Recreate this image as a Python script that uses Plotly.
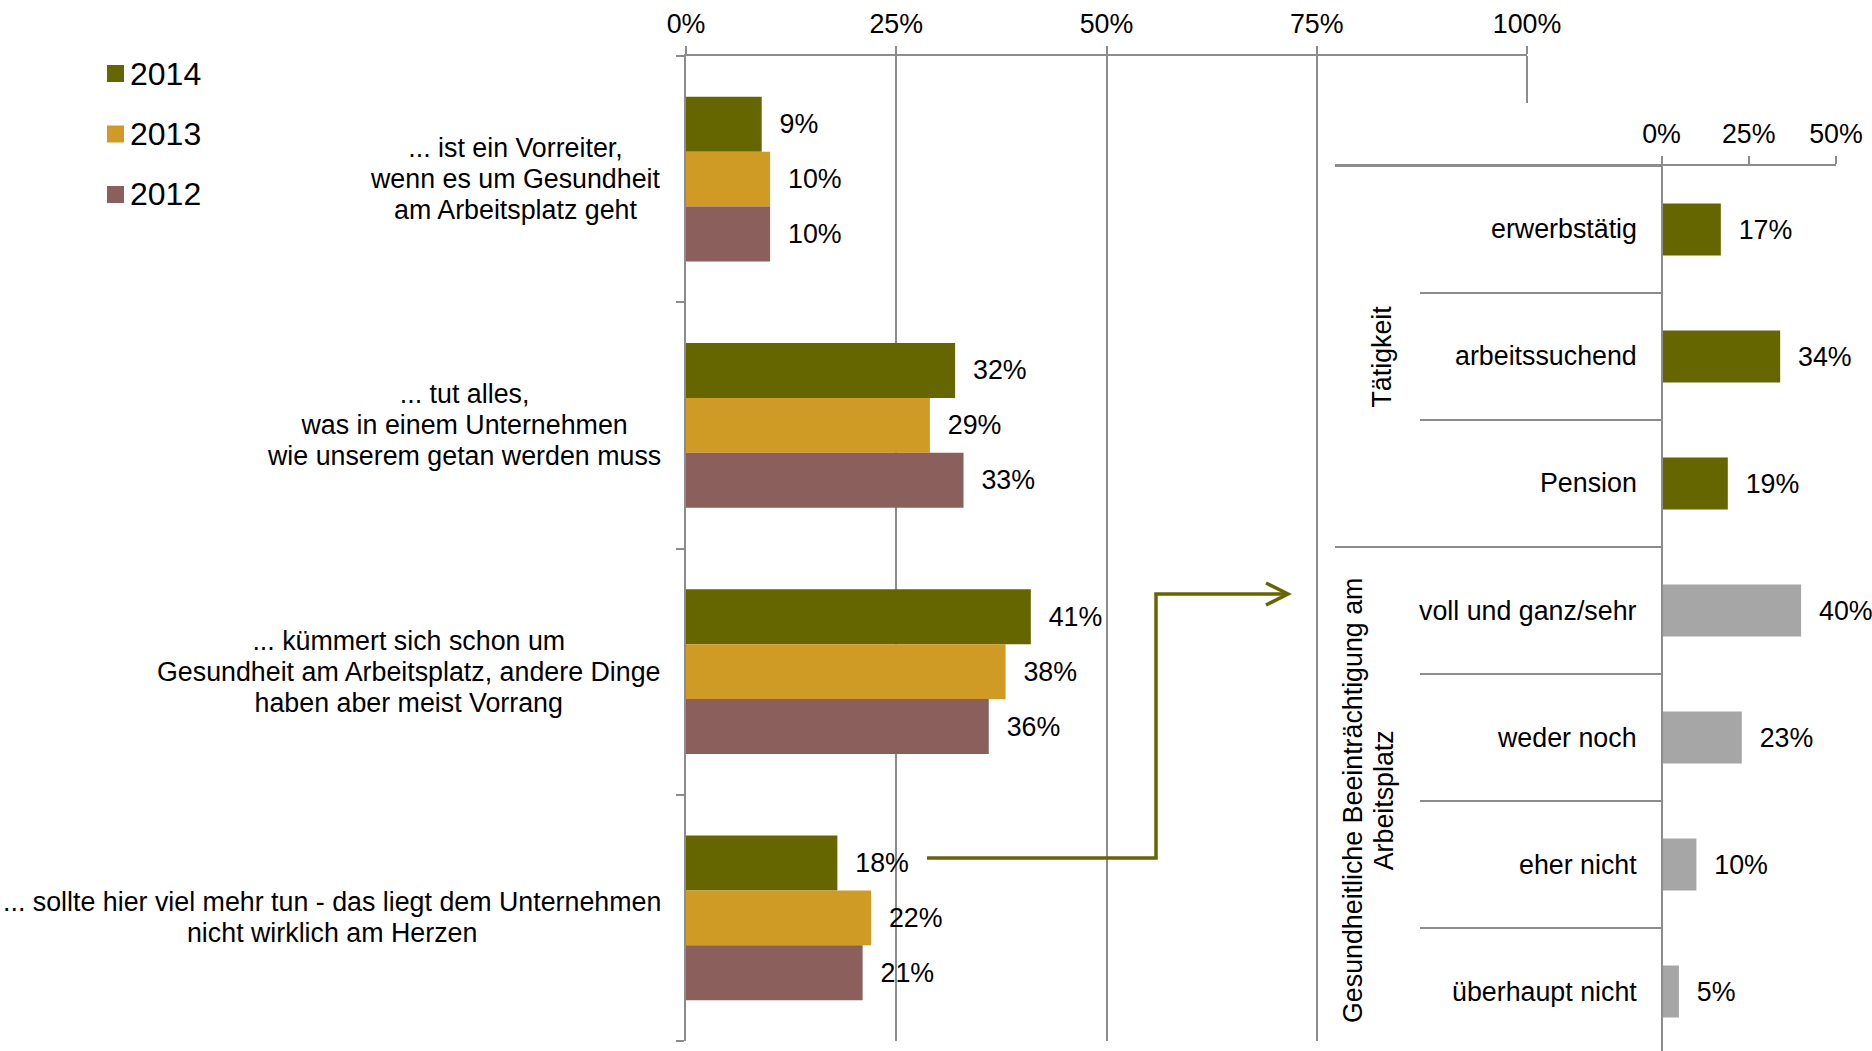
import plotly.graph_objects as go

W, H = 1872, 1051

# ---- data -------------------------------------------------------------
years = ["2014", "2013", "2012"]
year_colors = ["#666600", "#CF9B24", "#8B5F5C"]
statements = [
    ["... ist ein Vorreiter,", "wenn es um Gesundheit", "am Arbeitsplatz geht"],
    ["... tut alles,", "was in einem Unternehmen", "wie unserem getan werden muss"],
    ["... kümmert sich schon um", "Gesundheit am Arbeitsplatz, andere Dinge", "haben aber meist Vorrang"],
    ["... sollte hier viel mehr tun - das liegt dem Unternehmen", "nicht wirklich am Herzen"],
]
share_2014 = [9, 32, 41, 18]
share_2013 = [10, 29, 38, 22]
share_2012 = [10, 33, 36, 21]
main_ticks = [0, 25, 50, 75, 100]

detail_groups = [["Tätigkeit"], ["Gesundheitliche Beeinträchtigung am", "Arbeitsplatz"]]
detail_labels = ["erwerbstätig", "arbeitssuchend", "Pension",
                 "voll und ganz/sehr", "weder noch", "eher nicht", "überhaupt nicht"]
detail_group_of = [0, 0, 0, 1, 1, 1, 1]
detail_values = [17, 34, 19, 40, 23, 10, 5]
detail_group_colors = ["#666600", "#A6A6A6"]
detail_ticks = [0, 25, 50]

# ---- styling ----------------------------------------------------------
FONT = "Liberation Sans, Arial, sans-serif"
LINE = "#8C8C8C"
LW = 2
TXT = 26.8        # glyph size
LEAD_BASE = 24    # size that drives the line spacing of multi-line labels


def fx(p):
    return p / W


def fy(p):
    return 1 - p / H


def pct(v):
    return "\u00a0\u00a0" + f"{v}%"


def lines(parts):
    # glyphs at TXT px, line pitch from the (smaller) base font size
    return "<br>".join(f'<span style="font-size:{TXT}px">{p}</span>' for p in parts)


# main panel frame (pixels)
M_L, M_R, M_T, M_B = 686, 1527, 56, 1041
# detail panel frame (pixels)
D_L, D_AX, D_R, D_T = 1335, 1661.5, 1836, 166
D_BAND = 127

fig = go.Figure()

# ---- main grouped bars -------------------------------------------------
pos = list(range(len(statements)))
for name, color, vals in zip(years, year_colors, [share_2014, share_2013, share_2012]):
    fig.add_trace(go.Bar(
        name=name, orientation="h", x=vals, y=pos,
        marker=dict(color=color, line=dict(width=0)),
        text=[pct(v) for v in vals], textposition="outside",
        outsidetextfont=dict(size=TXT, color="#000000", family=FONT),
        cliponaxis=False, xaxis="x", yaxis="y", showlegend=False,
    ))

# ---- detail bars -------------------------------------------------------
dpos = list(range(len(detail_labels)))
fig.add_trace(go.Bar(
    orientation="h", x=detail_values, y=dpos, width=0.41,
    marker=dict(color=[detail_group_colors[g] for g in detail_group_of], line=dict(width=0)),
    text=[pct(v) for v in detail_values], textposition="outside",
    outsidetextfont=dict(size=TXT, color="#000000", family=FONT),
    cliponaxis=False, xaxis="x2", yaxis="y2", showlegend=False,
))

# group boundaries and inner boundaries for the detail axis
major_b = [-0.5]
minor_b = []
for i in range(1, len(detail_group_of)):
    b = i - 0.5
    if detail_group_of[i] != detail_group_of[i - 1]:
        major_b.append(b)
    else:
        minor_b.append(b)

x2_low = -(D_AX - D_L) / (D_R - D_AX) * detail_ticks[-1]
y2_bottom = -0.5 + (H - D_T) / D_BAND

axis_common = dict(showline=True, linecolor=LINE, linewidth=LW, zeroline=False,
                   tickcolor=LINE, tickwidth=LW, automargin=False)

fig.update_layout(
    template="none",
    width=W, height=H, autosize=False,
    margin=dict(l=0, r=0, t=0, b=0, pad=0),
    paper_bgcolor="white", plot_bgcolor="white",
    font=dict(family=FONT, size=TXT, color="#000000"),
    barmode="group", bargap=0.33, bargroupgap=0,
    showlegend=False,
    xaxis=dict(
        domain=[fx(M_L), fx(M_R)], range=[0, 100], side="top", anchor="y",
        tickmode="array", tickvals=main_ticks, ticktext=[f"{t}%" for t in main_ticks],
        ticks="outside", ticklen=8, ticklabelstandoff=2,
        showgrid=True, gridcolor=LINE, gridwidth=LW,
        tickfont=dict(size=TXT), **axis_common,
    ),
    yaxis=dict(
        domain=[fy(M_B), fy(M_T)], range=[len(statements) - 0.5, -0.5], anchor="x",
        tickmode="array", tickvals=[i - 0.5 for i in range(len(statements) + 1)],
        ticks="outside", ticklen=8, showticklabels=False, showgrid=False, **axis_common,
    ),
    xaxis2=dict(
        domain=[fx(D_L), fx(D_R)], range=[x2_low, detail_ticks[-1]], side="top", anchor="y2",
        tickmode="array", tickvals=detail_ticks, ticktext=[f"{t}%" for t in detail_ticks],
        ticks="outside", ticklen=8, ticklabelstandoff=2, showgrid=False,
        tickfont=dict(size=TXT), **axis_common,
    ),
    yaxis2=dict(
        domain=[0, fy(D_T)], range=[y2_bottom, -0.5], anchor="free", position=fx(D_AX),
        tickmode="array", tickvals=major_b, ticks="outside",
        ticklen=int(D_AX - D_L), showticklabels=False, showgrid=False,
        minor=dict(tickmode="array", tickvals=minor_b, ticks="outside",
                   ticklen=int(D_AX - 1420), tickcolor=LINE, tickwidth=LW, showgrid=False),
        **axis_common,
    ),
)

annotations = []
shapes = []

# statement labels
for i, s in enumerate(statements):
    annotations.append(dict(
        text=lines(s), x=fx(663), xref="paper", xanchor="right", y=i, yref="y", yanchor="middle",
        align="center", showarrow=False, font=dict(size=LEAD_BASE),
    ))

# detail category labels
for i, s in enumerate(detail_labels):
    annotations.append(dict(
        text=s, x=fx(1639), xref="paper", xanchor="right", y=i, yref="y2", yanchor="middle",
        align="right", showarrow=False, font=dict(size=TXT),
    ))

# rotated group titles
group_x = [1382, 1368]
for g, title in enumerate(detail_groups):
    members = [i for i, gg in enumerate(detail_group_of) if gg == g]
    annotations.append(dict(
        text=lines(title), textangle=-90, x=fx(group_x[g]), xref="paper", xanchor="center",
        y=sum(members) / len(members), yref="y2", yanchor="middle",
        align="center", showarrow=False, font=dict(size=LEAD_BASE),
    ))

# legend
for k, (name, color) in enumerate(zip(years, year_colors)):
    cy = 73.5 + k * 60.5
    shapes.append(dict(type="rect", xref="paper", yref="paper",
                       x0=fx(107), x1=fx(124), y0=fy(cy - 8.5), y1=fy(cy + 8.5),
                       fillcolor=color, line=dict(width=0)))
    annotations.append(dict(text=name, x=fx(128), xref="paper", xanchor="left",
                            y=fy(cy), yref="paper", yanchor="middle",
                            showarrow=False, font=dict(size=32)))

# the 100% gridline only reaches down to the detail panel
shapes.append(dict(type="line", xref="paper", yref="paper",
                   x0=fx(M_R), x1=fx(M_R), y0=fy(M_T), y1=fy(103),
                   line=dict(color=LINE, width=LW)))

# connector arrow from the last statement to the detail panel
conn = [(927, 858), (1156, 858), (1156, 594), (1286, 594)]
path = "M " + " L ".join(f"{fx(a):.5f},{fy(b):.5f}" for a, b in conn)
shapes.append(dict(type="path", xref="paper", yref="paper", path=path, layer="above",
                   line=dict(color="#666600", width=3.5)))
head = [(1266, 583), (1288, 594), (1266, 605)]
hpath = "M " + " L ".join(f"{fx(a):.5f},{fy(b):.5f}" for a, b in head)
shapes.append(dict(type="path", xref="paper", yref="paper", path=hpath, layer="above",
                   line=dict(color="#666600", width=3.5)))

fig.update_layout(annotations=annotations, shapes=shapes)

fig.write_html("out.html")
